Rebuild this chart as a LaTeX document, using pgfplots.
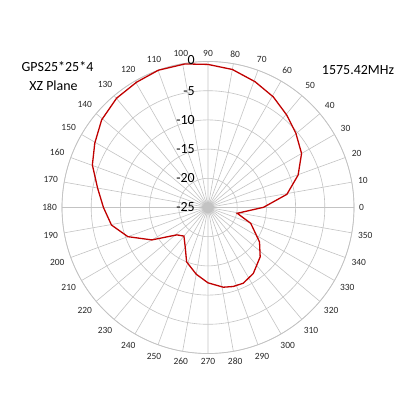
\documentclass[border=0pt]{standalone}
\usepackage{fontspec}
\setmainfont{Carlito}
\usepackage{pgfplots}
\usepackage{pgfplotstable}
\pgfplotsset{compat=1.18}
\usepgfplotslibrary{polar}
\definecolor{gridgray}{RGB}{195,195,195}
\definecolor{curvered}{RGB}{192,0,0}
\pgfplotstableread{
ang db
0.2 -15.5
9.5 -11.3
19.8 -8.6
30 -6.5
40.2 -5.3
49.6 -4.2
59.5 -3.0
69.5 -2.0
80 -1.0
90 -0.5
99.1 -0.1
109.9 0.0
119.7 -0.3
129.9 -0.6
140.5 -1.4
150.4 -2.7
159.8 -3.9
170 -5.8
180 -7.1
190.3 -8.2
200 -10.4
210 -13.9
221.3 -17.9
229.9 -18.6
240 -17.2
248.5 -15.0
260 -13.4
270 -12.1
280.9 -11.1
287.7 -10.8
295 -10.7
304.5 -11.3
316.6 -12.7
326.3 -14.4
339.7 -17.2
348.8 -19.9
360.2 -15.5
}\gain
\begin{document}
\begin{tikzpicture}
\path[use as bounding box] (0,0) rectangle (400bp,-400bp);
\begin{polaraxis}[
  at={(208bp,-207.5bp)}, anchor=center,
  scale only axis, width=292bp, height=292bp,
  xmin=0, xmax=360, ymin=0, ymax=25,
  clip=false,
  xtick={0,10,...,350},
  ytick={0,5,...,25},
  yticklabels={},
  grid=both,
  major grid style={gridgray, line width=0.6bp},
  axis line style={gridgray, line width=0.7bp},
  tick style={draw=none},
  /pgf/number format/assume math mode=true,
  xticklabel style={font=\fontsize{9.5}{10}\selectfont, color=black!85, inner sep=5pt},
]
\draw[gridgray, line width=1.6bp] (axis cs:0,25) -- (axis cs:180,25);
\addplot[curvered, line width=1.3bp, no markers] table[x=ang, y expr=\thisrow{db}+25] {\gain};
\node[anchor=east, inner sep=0pt, xshift=-13bp, yshift=1bp, font=\fontsize{14}{16}\selectfont] at (axis cs:90,25) {0};
\node[anchor=east, inner sep=0pt, xshift=-13bp, font=\fontsize{14}{16}\selectfont] at (axis cs:90,20) {-5};
\node[anchor=east, inner sep=0pt, xshift=-13bp, font=\fontsize{14}{16}\selectfont] at (axis cs:90,15) {-10};
\node[anchor=east, inner sep=0pt, xshift=-13bp, font=\fontsize{14}{16}\selectfont] at (axis cs:90,10) {-15};
\node[anchor=east, inner sep=0pt, xshift=-13bp, font=\fontsize{14}{16}\selectfont] at (axis cs:90,5) {-20};
\node[anchor=east, inner sep=0pt, xshift=-13bp, font=\fontsize{14}{16}\selectfont] at (axis cs:90,0) {-25};
\end{polaraxis}
\node[font=\fontsize{14}{16}\selectfont] at (57.5bp,-67bp) {GPS25*25*4};
\node[font=\fontsize{14}{16}\selectfont] at (53.5bp,-86bp) {XZ Plane};
\node[font=\fontsize{14}{16}\selectfont] at (358bp,-70bp) {1575.42MHz};
\end{tikzpicture}
\end{document}
